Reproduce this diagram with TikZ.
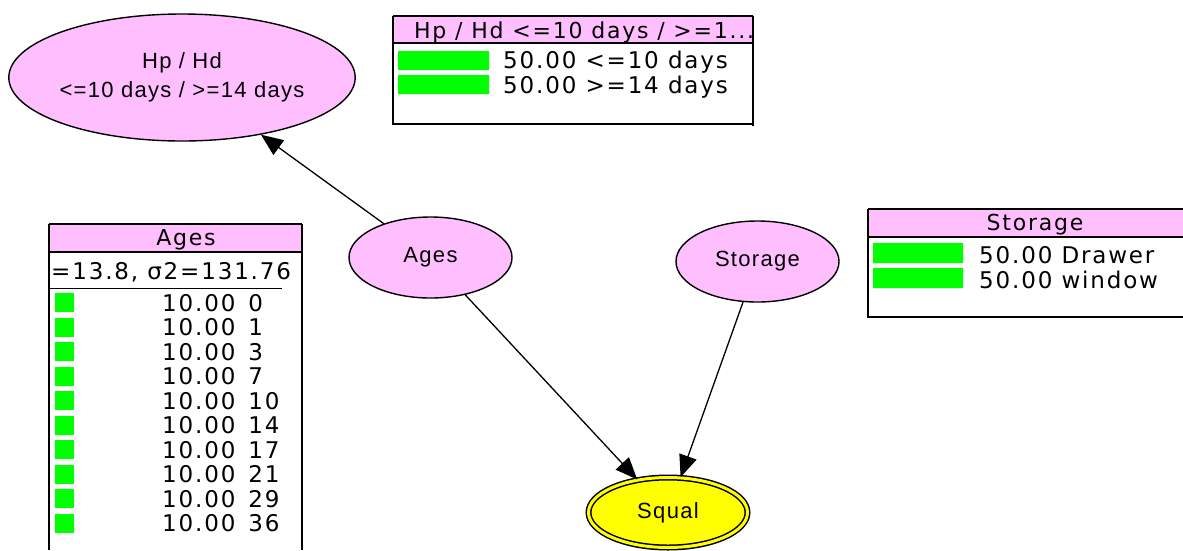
\documentclass[tikz,border=0pt]{standalone}
\usepackage{fontspec}
\usepackage{tikz}
\usepackage{xcolor}
\usetikzlibrary{shapes.geometric,arrows.meta}
\newfontfamily\tablefont[LetterSpace=8]{DejaVu Sans}
\newfontfamily\nodefont[LetterSpace=6]{Liberation Sans}
\definecolor{node-pink}{RGB}{255,191,255}
\definecolor{bar-green}{RGB}{0,255,0}
\definecolor{query-yellow}{RGB}{255,255,0}
\tikzset{
    bn-node/.style = {draw=black, fill=node-pink, ellipse, inner sep=0pt, line width=1.4pt, font=\nodefont\fontsize{22}{29}\selectfont, align=center},
    query-node/.style = {bn-node, fill=query-yellow, double=query-yellow, double distance=3pt, line width=1.5pt},
    table-frame/.style = {draw=black, line width=1.5pt},
    table-title/.style = {font=\tablefont\fontsize{22}{24}\selectfont, inner sep=0pt},
    table-text/.style = {font=\tablefont\fontsize{23}{24}\selectfont, inner sep=0pt, anchor=west},
    bar/.style = {fill=bar-green, draw=none},
    link/.style = {-{Triangle[length=22pt,width=18pt]}, line width=1.3pt},
}
\begin{document}
\begin{tikzpicture}[x=1pt, y=-1pt]
\useasboundingbox (0,0) rectangle (1183,550);
\node[bn-node, minimum width=344pt, minimum height=127pt] (hp-hd) at (182,77.5) {Hp / Hd\\<=10 days / >=14 days};
\node[bn-node, minimum width=163pt, minimum height=81pt] (ages) at (430.5,257.5) {Ages};
\node[bn-node, minimum width=163pt, minimum height=81pt] (storage) at (757.5,261.5) {Storage};
\node[query-node, minimum width=159pt, minimum height=70pt] (squal) at (668,512.5) {Squal};
\draw[link] (ages) -- (hp-hd);
\draw[link] (ages) -- (squal);
\draw[link] (storage) -- (squal);

\fill[node-pink] (393,16) rectangle (753,43);
\draw[table-frame] (393,16) -- (753,16) (393,43) -- (753,43) (393,124) -- (753,124);
\draw[table-frame] (393,16) -- (393,125) (753,16) -- (753,126);
\node[table-title, anchor=west] (hp-hd-title) at (414,32) {Hp / Hd <=10 days / >=1...};
\fill[bar] (398,51) rectangle (489,70) (398,75) rectangle (489,94);
\node[table-text] (hp-row-1) at (503,62) {50.00 <=10 days};
\node[table-text] (hp-row-2) at (503,87) {50.00 >=14 days};

\fill[node-pink] (49,224) rectangle (302,251);
\draw[table-frame] (49,224) -- (302,224) (49,252) -- (302,252);
\draw[table-frame] (49,224) -- (49,550) (302,224) -- (302,550);
\draw[line width=1pt] (49,288) -- (282,288);
\node[table-title] (ages-title) at (186,240) {Ages};
\node[table-text] (ages-stats) at (51,272) {=13.8, σ2=131.76};
\foreach \val [count=\i from 0] in {0,1,3,7,10,14,17,21,29,36} {
    \fill[bar] (55,{293+24.5*\i}) rectangle (74,{312+24.5*\i});
    \node[table-text] (ages-row-\i) at (162,{303+24.5*\i}) {10.00\hspace{13pt}\val};
}

\fill[node-pink] (868,209) rectangle (1183,236);
\draw[table-frame] (868,209) -- (1183,209) (868,237) -- (1183,237) (868,317) -- (1183,317);
\draw[table-frame] (868,209) -- (868,318);
\node[table-title] (storage-title) at (1035,225) {Storage};
\fill[bar] (873,243) rectangle (963,263) (873,268) rectangle (963,288);
\node[table-text] (storage-row-1) at (979,255) {50.00 Drawer};
\node[table-text] (storage-row-2) at (979,280) {50.00 window};
\end{tikzpicture}
\end{document}
